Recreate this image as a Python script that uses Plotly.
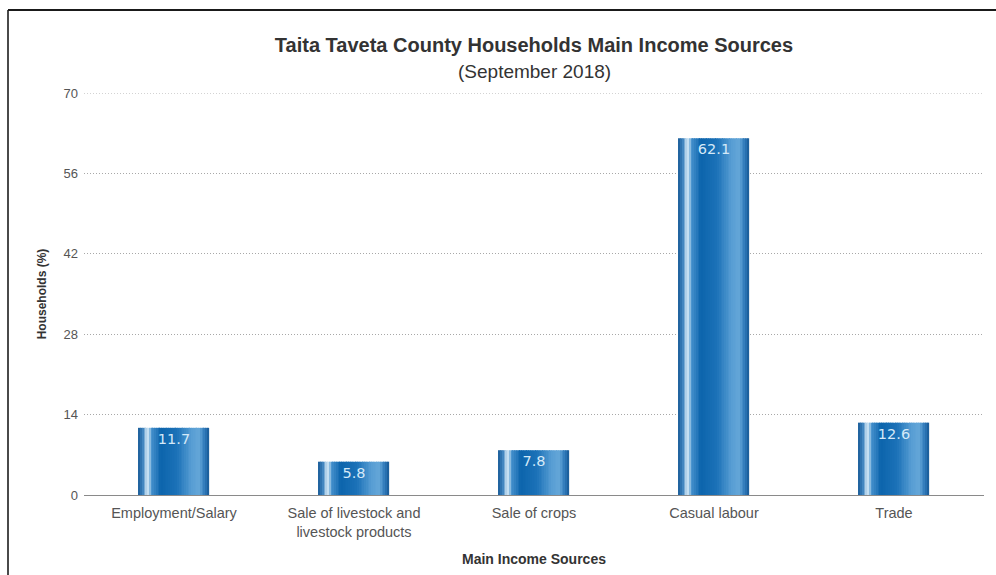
import plotly.graph_objects as go

# ---- data ----
categories = ["Employment/Salary", "Sale of livestock and<br>livestock products",
              "Sale of crops", "Casual labour", "Trade"]
values = [11.7, 5.8, 7.8, 62.1, 12.6]
y_ticks = [0, 14, 28, 42, 56, 70]

title = "Taita Taveta County Households Main Income Sources"
subtitle = "(September 2018)"
x_title = "Main Income Sources"
y_title = "Households (%)"

# ---- style ----
BAR_W = 0.39
N_STRIPS = 40
stops = [
    (0.00, (26, 92, 152)),
    (0.06, (60, 130, 190)),
    (0.13, (214, 234, 247)),
    (0.19, (70, 145, 205)),
    (0.32, (12, 100, 172)),
    (0.55, (28, 114, 184)),
    (0.76, (88, 158, 212)),
    (0.86, (100, 166, 216)),
    (0.95, (45, 120, 185)),
    (1.00, (24, 88, 148)),
]


def color_at(t):
    for (t0, c0), (t1, c1) in zip(stops[:-1], stops[1:]):
        if t0 <= t <= t1:
            f = (t - t0) / (t1 - t0) if t1 > t0 else 0
            c = [round(a + (b - a) * f) for a, b in zip(c0, c1)]
            return "rgb(%d,%d,%d)" % tuple(c)
    return "rgb(%d,%d,%d)" % stops[-1][1]


fig = go.Figure()
sw = BAR_W / N_STRIPS
for i in range(N_STRIPS):
    t = (i + 0.5) / N_STRIPS
    fig.add_trace(go.Bar(
        x=categories, y=values,
        width=sw * 1.02, offset=-BAR_W / 2 + i * sw,
        marker=dict(color=color_at(t), line=dict(width=0)),
        hoverinfo="skip", showlegend=False,
    ))

# value labels (transparent full-width bar carrying the text)
fig.add_trace(go.Bar(
    x=categories, y=values, width=BAR_W, offset=-BAR_W / 2,
    marker=dict(color="rgba(0,0,0,0)", line=dict(width=0)),
    text=[f"{v:.1f}" for v in values], textposition="inside",
    insidetextanchor="end", constraintext="none",
    textfont=dict(family="DejaVu Sans", size=14.5, color="#d4e9f8"),
    showlegend=False, hoverinfo="skip",
))

GRID = dict(color="#a8a8a8", width=1, dash="1px,2px")

fig.update_layout(
    width=996, height=575,
    barmode="overlay",
    paper_bgcolor="white", plot_bgcolor="white",
    margin=dict(l=84, r=12, t=93, b=80),
    font=dict(family="Liberation Sans, Arial, sans-serif", color="#555"),
    title=dict(text="<b>" + title + "</b>", x=534 / 996, xanchor="center",
               y=1 - 45 / 575, yanchor="middle", yref="container",
               font=dict(size=20, color="#333")),
    annotations=[dict(text=subtitle, x=0.5, xref="paper", y=(495 - 72) / 402,
                      yref="paper", showarrow=False, xanchor="center",
                      yanchor="middle", font=dict(size=19, color="#333"))],
    xaxis=dict(showgrid=False, showline=True, linecolor="#8a8a8a", linewidth=1,
               ticks="", tickfont=dict(size=14.5, color="#555"),
               ticklabelstandoff=5,
               title=dict(text="<b>" + x_title + "</b>", standoff=14,
                          font=dict(size=14, color="#333"))),
    yaxis=dict(range=[0, 70], tickvals=y_ticks, showgrid=True,
               gridcolor=GRID["color"], griddash=GRID["dash"], gridwidth=1,
               zeroline=False, showline=False, ticks="",
               ticklabelstandoff=5,
               tickfont=dict(size=13, color="#555"),
               title=dict(text="<b>" + y_title + "</b>", standoff=14,
                          font=dict(size=12, color="#333"))),
    shapes=[
        # top gridline (plotly omits the grid line at the range edge)
        dict(type="line", xref="paper", yref="y", x0=0, x1=1,
             y0=y_ticks[-1], y1=y_ticks[-1], layer="below", line=GRID),
        dict(type="line", xref="paper", yref="paper",
             x0=(8 - 84) / 900, x1=(8 - 84) / 900,
             y0=(495 - 10) / 402, y1=-0.3,
             line=dict(color="#4a4a4a", width=2)),
        dict(type="line", xref="paper", yref="paper",
             x0=(8 - 84) / 900, x1=1.1,
             y0=(495 - 10) / 402, y1=(495 - 10) / 402,
             line=dict(color="#1a1a1a", width=2)),
    ],
)

fig.write_html("out.html", config={"displayModeBar": False},
               post_script="document.body.style.margin='0';")
